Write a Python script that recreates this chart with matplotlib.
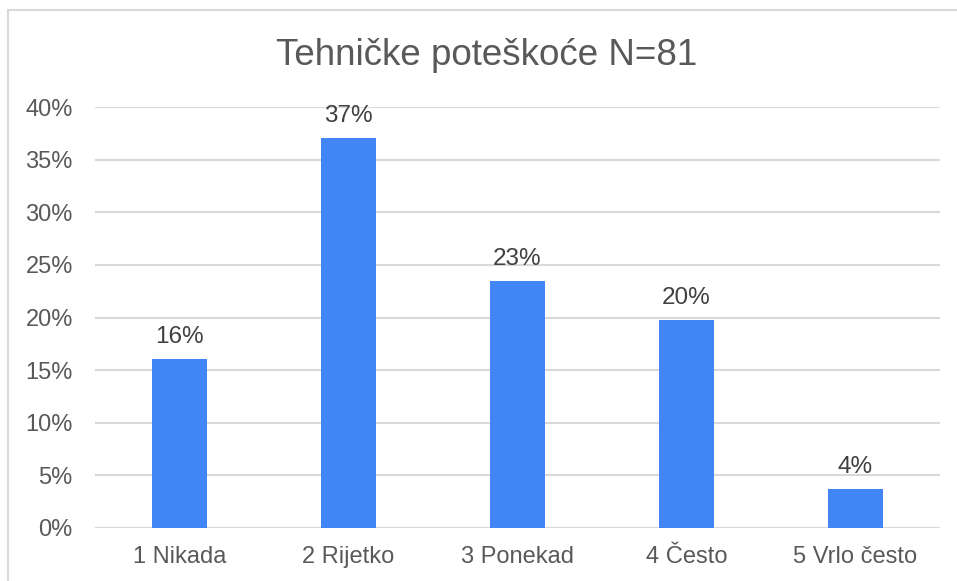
import matplotlib
matplotlib.use('Agg')
import matplotlib.pyplot as plt
from matplotlib.patches import Rectangle
import numpy as np

plt.rcParams['font.family'] = ['Liberation Sans', 'DejaVu Sans']

# data
categories = ['1 Nikada', '2 Rijetko', '3 Ponekad', '4 Često', '5 Vrlo često']
counts = [13, 30, 19, 16, 3]
n_total = 81
shares = [c / n_total for c in counts]
labels = ['16%', '37%', '23%', '20%', '4%']
yticks = [0, 0.05, 0.10, 0.15, 0.20, 0.25, 0.30, 0.35, 0.40]

text_col = '#595959'
grid_col = '#d9d9d9'
bar_col = '#4285f4'

fig = plt.figure(figsize=(9.57, 5.81), dpi=100)
ax = fig.add_axes([95 / 957, 1 - 528 / 581, 845 / 957, 421 / 581])

x = np.arange(len(categories))
bars = ax.bar(x, shares, width=0.325, color=bar_col, zorder=3)

for b, lab in zip(bars, labels):
    ax.annotate(lab, (b.get_x() + b.get_width() / 2, b.get_height()),
                xytext=(0, 8), textcoords='offset points',
                ha='center', va='bottom', fontsize=17.5, color='#404040')

ax.set_xlim(-0.5, len(categories) - 0.5)
ax.set_ylim(0, 0.40)
ax.set_yticks(yticks)
ax.set_yticklabels([f'{int(round(t * 100))}%' for t in yticks])
ax.set_xticks(x)
ax.set_xticklabels(categories)
ax.tick_params(axis='both', length=0, labelsize=17, labelcolor=text_col)
ax.tick_params(axis='y', pad=16)
ax.tick_params(axis='x', pad=13)
ax.grid(axis='y', color=grid_col, linewidth=1.5, zorder=0)
for s in ax.spines.values():
    s.set_visible(False)

fig.text(487 / 957, 1 - 65 / 581, 'Tehničke poteškoće N=81', ha='center', va='baseline',
         fontsize=26.5, color=text_col)

# light frame around the chart area
fig.patches.append(Rectangle((8 / 957, -0.1), 1.2, 1.1 - 10 / 581,
                             transform=fig.transFigure, fill=False,
                             edgecolor=grid_col, linewidth=1.5))

fig.savefig('out.png', dpi=100)
